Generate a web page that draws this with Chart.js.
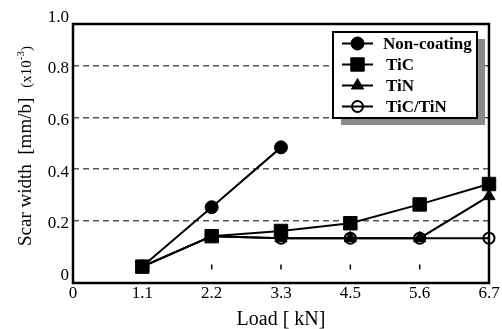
<!DOCTYPE html>
<html>
<head>
<meta charset="utf-8">
<script src="https://cdn.jsdelivr.net/npm/chart.js@4.4.0/dist/chart.umd.min.js"></script>
<style>
  html, body { margin: 0; padding: 0; background: #fff; }
  #wrap { width: 502px; height: 329px; }
</style>
</head>
<body>
<div id="wrap"><canvas id="myChart" width="502" height="329"></canvas></div>
<script>
// data
const loadLabels = ['0', '1.1', '2.2', '3.3', '4.5', '5.6', '6.7'];
const yTicks = [0, 0.2, 0.4, 0.6, 0.8, 1.0];
const nonCoating = [null, 0.022, 0.252, 0.484, null, null, null];
const ticData = [null, 0.022, 0.14, 0.16, 0.19, 0.263, 0.342];
const tinData = [null, 0.022, 0.14, 0.132, 0.132, 0.132, 0.295];
const ticTinData = [null, 0.022, 0.14, 0.132, 0.132, 0.132, 0.132];
const seriesNames = ['Non-coating', 'TiC', 'TiN', 'TiC/TiN'];

const serif = '"Liberation Serif", "Times New Roman", serif';

const decorPlugin = {
    id: 'decor',
    afterDraw(chart) {
        const ctx = chart.ctx;
        const area = chart.chartArea;
        const xs = chart.scales.x;
        const ys = chart.scales.y;

        // small tick marks inside the plot
        ctx.save();
        ctx.strokeStyle = '#000';
        ctx.lineWidth = 1.5;
        for (let i = 2; i <= 5; i++) {
            let px = xs.getPixelForValue(i);
            ctx.beginPath();
            ctx.moveTo(px, ys.getPixelForValue(0.03));
            ctx.lineTo(px, ys.getPixelForValue(0.011));
            ctx.stroke();
        }
        ctx.restore();

        // frame
        ctx.save();
        ctx.strokeStyle = '#000';
        ctx.lineWidth = 2.5;
        ctx.strokeRect(area.left, area.top, area.right - area.left, area.bottom - area.top);
        ctx.restore();

        // axis titles
        ctx.save();
        ctx.fillStyle = '#000';
        ctx.font = '20px ' + serif;
        ctx.textAlign = 'center';
        ctx.textBaseline = 'alphabetic';
        ctx.fillText('Load [ kN]', (area.left + area.right) / 2, 325);
        ctx.restore();

        ctx.save();
        ctx.fillStyle = '#000';
        ctx.translate(31, 246);
        ctx.rotate(-Math.PI / 2);
        ctx.textAlign = 'left';
        ctx.textBaseline = 'alphabetic';
        ctx.font = '19px ' + serif;
        let t = 'Scar width  [mm/b]';
        ctx.fillText(t, 0, 0);
        let x = ctx.measureText(t).width + 10;
        ctx.font = '15px ' + serif;
        ctx.fillText('(x10', x, 0);
        x += ctx.measureText('(x10').width;
        ctx.font = '11px ' + serif;
        ctx.fillText('-3', x, -7);
        x += ctx.measureText('-3').width;
        ctx.font = '15px ' + serif;
        ctx.fillText(')', x, 0);
        ctx.restore();

        // legend box with shadow
        const bx = 333, by = 32, bw = 144, bh = 86;
        ctx.save();
        ctx.fillStyle = '#8a8a8a';
        ctx.fillRect(bx + 8, by + 7, bw, bh);
        ctx.fillStyle = '#fff';
        ctx.fillRect(bx, by, bw, bh);
        ctx.strokeStyle = '#000';
        ctx.lineWidth = 2;
        ctx.strokeRect(bx, by, bw, bh);

        chart.data.datasets.forEach(function (ds, i) {
            let cy = by + 11.5 + i * 21;
            ctx.strokeStyle = '#000';
            ctx.lineWidth = 2;
            ctx.beginPath();
            ctx.moveTo(bx + 9, cy);
            ctx.lineTo(bx + 40, cy);
            ctx.stroke();
            ctx.fillStyle = ds.pointBackgroundColor;
            ctx.strokeStyle = '#000';
            ctx.lineWidth = ds.pointBorderWidth;
            Chart.helpers.drawPoint(ctx, {
                pointStyle: ds.pointStyle,
                radius: ds.pointRadius,
                rotation: 0,
                borderWidth: ds.pointBorderWidth
            }, bx + 24.5, cy);
            ctx.fillStyle = '#000';
            ctx.font = 'bold 17px ' + serif;
            ctx.textAlign = 'left';
            ctx.textBaseline = 'alphabetic';
            ctx.fillText(ds.label, bx + (i === 0 ? 50 : 53), cy + 5);
        });
        ctx.restore();
    }
};

let ctx = document.getElementById('myChart').getContext('2d');

let chart = new Chart(ctx, {
    type: 'line',
    data: {
        labels: loadLabels,
        datasets: [
            {
                label: seriesNames[0],
                data: nonCoating,
                borderColor: '#000',
                borderWidth: 2,
                pointStyle: 'circle',
                pointRadius: 6.5,
                pointBackgroundColor: '#000',
                pointBorderColor: '#000',
                pointBorderWidth: 1
            },
            {
                label: seriesNames[1],
                data: ticData,
                borderColor: '#000',
                borderWidth: 2,
                pointStyle: 'rect',
                pointRadius: 9.5,
                pointBackgroundColor: '#000',
                pointBorderColor: '#000',
                pointBorderWidth: 1
            },
            {
                label: seriesNames[2],
                data: tinData,
                borderColor: '#000',
                borderWidth: 2,
                pointStyle: 'triangle',
                pointRadius: 7,
                pointBackgroundColor: '#000',
                pointBorderColor: '#000',
                pointBorderWidth: 1
            },
            {
                label: seriesNames[3],
                data: ticTinData,
                borderColor: '#000',
                borderWidth: 2,
                pointStyle: 'circle',
                pointRadius: 5.5,
                pointBackgroundColor: 'rgba(0,0,0,0)',
                pointBorderColor: '#000',
                pointBorderWidth: 2
            }
        ]
    },
    options: {
        responsive: false,
        animation: false,
        layout: {
            padding: { top: 24, right: 13, left: 0, bottom: 0 }
        },
        plugins: {
            legend: { display: false },
            tooltip: { enabled: false }
        },
        scales: {
            x: {
                type: 'category',
                offset: false,
                grid: { display: false, drawTicks: false },
                border: { display: false },
                ticks: {
                    color: '#000',
                    font: { family: serif, size: 17 },
                    padding: 0,
                    maxRotation: 0,
                    autoSkip: false
                },
                afterFit: function (scale) { scale.height = 46; }
            },
            y: {
                min: -0.0415,
                max: 0.962,
                afterBuildTicks: function (scale) {
                    scale.ticks = yTicks.map(v => ({ value: v }));
                },
                grid: {
                    drawTicks: false,
                    color: function (c) {
                        let v = c.tick ? c.tick.value : 0;
                        return (v > 0.1 && v < 0.9) ? '#555' : 'rgba(0,0,0,0)';
                    },
                    lineWidth: 1.5
                },
                border: { display: false, dash: [6, 4] },
                ticks: {
                    color: '#000',
                    font: { family: serif, size: 17 },
                    padding: 4,
                    labelOffset: 3,
                    autoSkip: false,
                    callback: function (v) { return v === 0 ? '0' : v.toFixed(1); }
                },
                afterFit: function (scale) { scale.width = 73; }
            }
        }
    },
    plugins: [decorPlugin]
});
</script>
</body>
</html>
